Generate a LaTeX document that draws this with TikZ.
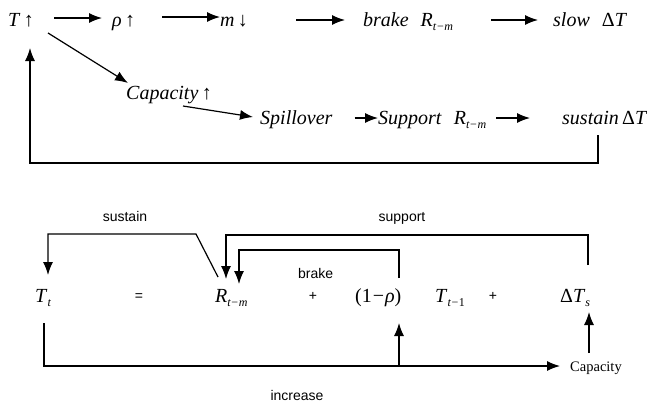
\documentclass[tikz,border=0pt]{standalone}
\usepackage{fontspec}
\setmainfont{Liberation Serif}
\newfontfamily\lsans{Liberation Sans}
\usetikzlibrary{arrows.meta}
\newcommand\subx[1]{\raisebox{-0.45ex}{\fontsize{12}{12}\selectfont #1}}
\newcommand\Rtm{\textit{R}\subx{\textit{t}\kern0.5pt−\kern0.5pt\textit{m}}}
\begin{document}
\begin{tikzpicture}[x=1pt,y=-1pt,
  txt/.style={inner sep=0pt, font=\fontsize{20}{24}\selectfont},
  lab/.style={inner sep=0pt, font=\lsans\fontsize{14}{16}\selectfont},
  arr/.style={line width=1.2pt, -{Latex[length=13pt,width=10pt]}},
  ln/.style={line width=1.2pt}]
\useasboundingbox (0,0) rectangle (647,405);
% top part
\node[txt, anchor=base west] (T) at (8,26) {\textit{T}\,↑};
\node[txt, anchor=base west] (rho) at (112,26) {\textit{ρ}\,↑};
\node[txt, anchor=base west] (m) at (220,26) {\textit{m}\,↓};
\node[txt, anchor=base west] (brake) at (363,26) {\textit{brake}\hspace{12pt}\Rtm};
\node[txt, anchor=base west] (slow) at (553,26) {\textit{slow}\hspace{12pt}Δ\textit{T}};
\node[txt, anchor=base west] (cap) at (126,99) {\textit{Capacity}\,↑};
\node[txt, anchor=base west] (spill) at (260,124) {\textit{Spillover}};
\node[txt, anchor=base west] (supp) at (378,124) {\textit{Support}\hspace{12pt}\Rtm};
\node[txt, anchor=base west] (sust) at (562,124) {\textit{sustain}\,Δ\textit{T}};

\draw[arr, shorten <=20pt, shorten >=10pt] ([yshift=8pt]T.base east) -- ([yshift=8pt]rho.base west);
\draw[arr, shorten <=27pt, shorten >=0pt] ([yshift=9pt]rho.base east) -- ([yshift=9pt]m.base west);
\draw[arr, shorten <=48pt, shorten >=18pt] ([yshift=6pt]m.base east) -- ([yshift=6pt]brake.base west);
\draw[arr, shorten <=38pt, shorten >=15pt] ([yshift=6pt]brake.base east) -- ([yshift=6pt]slow.base west);
\draw[arr] ([shift={(14pt,-7pt)}]T.base east) -- ([shift={(2pt,16pt)}]cap.base west);
\draw[arr] ([shift={(57pt,-7pt)}]cap.base west) -- ([shift={(-7pt,7pt)}]spill.base west);
\draw[arr, shorten <=22pt] ([yshift=6pt]spill.base east) -- ([yshift=6pt]supp.base west);
\draw[arr, shorten <=10pt, shorten >=32pt] ([yshift=6pt]supp.base east) -- ([yshift=6pt]sust.base west);
\draw[arr] ([shift={(36pt,-11pt)}]sust.base west) -- ++(0,28) -| ([shift={(22pt,-22pt)}]T.base west);

% bottom part
\node[txt, anchor=base west] (Tt) at (35,302) {\textit{T}\subx{\textit{t}}};
\node[lab, anchor=base] (eq) at (139,300) {=};
\node[txt, anchor=base west] (R) at (215,302) {\Rtm};
\node[lab, anchor=base] (p1) at (313,300) {+};
\node[txt, anchor=base west] (om) at (355,302) {(1\kern1pt−\kern1pt\textit{ρ})};
\node[txt, anchor=base west] (Tt1) at (435,302) {\textit{T}\subx{\textit{t}\kern0.5pt−\kern0.5pt1}};
\node[lab, anchor=base] (p2) at (493,300) {+};
\node[txt, anchor=base west] (dTs) at (560,302) {Δ\textit{T}\subx{\textit{s}}};
\node[inner sep=0pt, font=\fontsize{14.5}{16}\selectfont, anchor=base west] (capb) at (570,371) {Capacity};
\node[lab, anchor=base] (lsus) at (125,221) {sustain};
\node[lab, anchor=base] (lsup) at (402,221) {support};
\node[lab, anchor=base west] (lbr) at (298,278) {brake};
\node[lab, anchor=base] (linc) at (297,400) {increase};

\draw[arr] ([shift={(3pt,25pt)}]R.base west) -- (196,234) -| ([shift={(13pt,27pt)}]Tt.base west);
\draw[arr] ([shift={(28pt,37pt)}]dTs.base west) -- ++(0,-30) -| ([shift={(11pt,23pt)}]R.base west);
\draw[arr] ([shift={(44pt,24pt)}]om.base west) -- ++(0,-28) -| ([shift={(24pt,18pt)}]R.base west);
\draw[arr] ([shift={(9pt,-21pt)}]Tt.base west) -- ++(0,43) -| ([shift={(44pt,-21pt)}]om.base west);
\coordinate (jn) at (399,366);
\draw[arr] (jn) -- ([shift={(-10pt,5pt)}]capb.base west);
\draw[arr] ([shift={(19pt,18pt)}]capb.base west) -- ([shift={(29pt,-10pt)}]dTs.base west);
\end{tikzpicture}
\end{document}
